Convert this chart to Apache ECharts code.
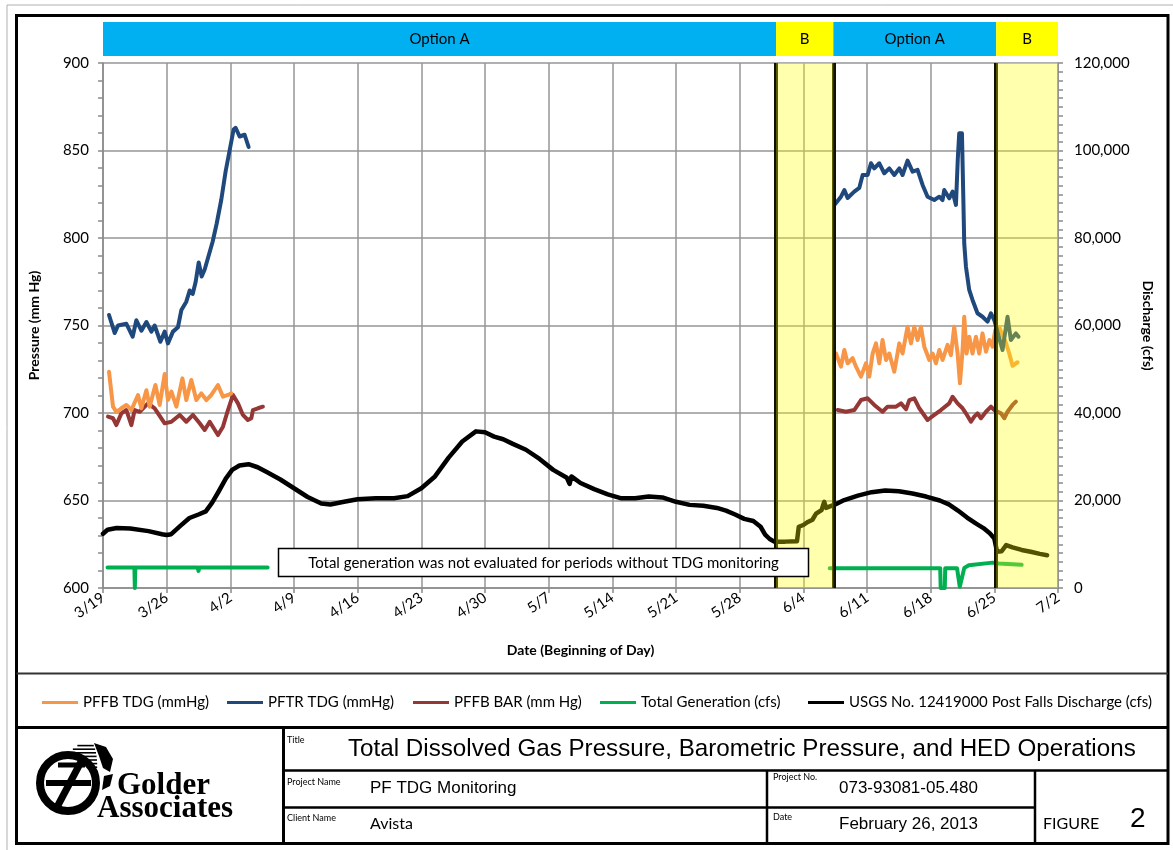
<!DOCTYPE html>
<html>
<head>
<meta charset="utf-8">
<script src="https://cdn.jsdelivr.net/npm/echarts@6/dist/echarts.min.js"></script>
<style>
  html, body { margin: 0; padding: 0; background: #ffffff; }
  #chart { width: 1173px; height: 850px; }
</style>
</head>
<body>
<div id="chart"></div>
<script>
// ---- Date axis: days counted from 3/19 ----
const xTickLabels = ['3/19','3/26','4/2','4/9','4/16','4/23','4/30','5/7','5/14','5/21','5/28','6/4','6/11','6/18','6/25','7/2'];

// ---- Operating phases (day offsets) ----
const phaseStart = [0, 74, 80.3, 98.2];
const phaseEnd   = [74, 80.3, 98.2, 105];
const phaseLabel = ['Option A', 'B', 'Option A', 'B'];

// ---- Series: [day offset, value]; null splits monitoring periods ----
const pffbTdg = [
  [0.66,723.6],[1.10,703.6],[1.47,700.7],[2.02,702.7],[2.57,704.6],[3.12,701.7],[3.85,710.3],[4.22,702.7],
  [4.77,713],[5.13,703.6],[5.76,716],[6.23,704.6],[6.78,722.3],[7.14,707.4],[7.52,712.2],[8.07,703.6],
  [8.73,719.8],[9.16,707.4],[9.71,718.9],[10.26,707.4],[10.81,711.2],[11.36,707.4],[11.91,710.3],[12.64,716],
  [13.19,709.3],[13.74,710.3],[14.11,711.2],
  [50,null],
  [80.59,734],[81.14,726.5],[81.51,736],[81.87,728.4],[82.42,731.3],[82.79,726.5],[83.34,720.8],[83.89,728.4],
  [84.25,720.8],[84.62,734],[84.99,739.8],[85.35,728.4],[85.71,741.7],[86.09,730.3],[86.45,734],[87.00,723.6],
  [87.55,739.8],[87.91,734],[88.46,749.3],[88.84,739.8],[89.20,749.3],[89.56,741.7],[89.93,749.3],[90.30,737.9],
  [90.85,730.3],[91.21,734],[91.58,728.4],[91.95,736],[92.31,730.3],[92.86,738.9],[93.23,733.1],[93.59,749.3],
  [93.96,734],[94.22,717],[94.51,736],[94.69,755],[94.95,734],[95.24,743.6],[95.60,734],[95.98,743.6],
  [96.34,734],[96.70,745.5],[97.08,735],[97.46,741.7],[97.80,737.9],[98.10,747.4],[98.54,749],[99.28,740],
  [99.64,734],[100.0,727],[100.55,729]
];

const pftrTdg = [
  [0.66,756],[1.29,745.7],[1.65,750],[2.57,751],[3.26,743.6],[3.67,753],[4.22,747],[4.77,752],
  [5.32,746.5],[5.68,750],[6.31,740.7],[6.78,746.5],[7.14,739.8],[7.69,746.5],[8.24,749],[8.62,758.9],
  [9.16,763.6],[9.53,770],[9.86,768],[10.19,775],[10.52,786],[10.85,778],[11.18,782],[11.62,790],
  [12.06,798],[12.49,808],[13.01,822],[13.48,838],[13.92,850],[14.36,862],[14.58,863],[15.02,858],
  [15.57,859],[16.01,852],
  [50,null],
  [80.41,818.9],[81.14,823.6],[81.51,827.4],[81.87,822.9],[82.60,826.5],[83.15,828.6],[83.52,836],[84.07,836],
  [84.44,842.7],[84.80,839.8],[85.35,842.7],[85.90,837],[86.45,839.8],[87.00,836],[87.55,839.8],[87.91,836],
  [88.46,844.2],[89.01,837.9],[89.56,838.9],[90.11,830.3],[90.66,823.6],[91.40,821.7],[91.95,823.6],[92.31,821.7],
  [92.49,827.4],[93.04,822.7],[93.41,826.5],[93.78,818.9],[93.98,845],[94.14,859.8],[94.44,859.8],[94.58,825.5],
  [94.69,797],[94.88,783.6],[95.24,770.3],[95.60,764.6],[96.15,757],[96.70,755],[97.25,752.2],[97.63,757],
  [97.99,753.1],[98.18,753],[98.90,736],[99.45,755],[99.82,741.7],[100.37,745.5],[100.66,743.6]
];

const pffbBar = [
  [0.55,697.9],[1.10,697],[1.47,693.1],[2.02,699.8],[2.57,701.7],[3.12,693.1],[3.48,701.7],[4.03,700.7],
  [4.95,705.5],[5.68,702.7],[6.78,694.1],[7.52,695],[8.43,698.9],[9.16,695],[9.89,698.9],[10.63,694.1],
  [11.18,690.3],[11.73,695],[12.64,687.4],[13.19,692.2],[13.74,701.7],[14.29,710.3],[14.84,705.5],[15.38,698.9],
  [15.93,696],[16.31,697],[16.48,701.7],[17.03,702.7],[17.58,703.6],
  [50,null],
  [80.77,701.7],[81.69,700.7],[82.60,701.7],[83.34,707.4],[84.07,708.4],[84.80,704.6],[85.71,700.7],[86.26,703.6],
  [87.19,703.6],[87.74,705.5],[88.29,702.1],[88.65,707.4],[89.20,708.4],[89.75,702.7],[90.66,696],[91.40,698.9],
  [92.13,701.7],[93.04,705.5],[93.41,709.3],[93.96,705.5],[94.51,702.7],[94.88,699.8],[95.43,695],[95.79,697.9],
  [96.15,699.8],[96.53,697],[97.08,700.7],[97.63,703.6],[97.99,701.7],[98.73,699.8],[99.09,697],[99.45,700.7],
  [100.0,704.6],[100.37,706.5]
];

const totalGeneration = [
  [0.5,4700],[3.45,4700],[3.5,0],[3.55,4700],[10.4,4700],[10.5,3900],[10.6,4700],[18.1,4700],
  [40,null],
  [79.9,4500],[92.05,4500],[92.1,0],[92.55,0],[92.6,4500],[93.9,4500],[94.2,300],[94.4,300],[94.7,4600],
  [95.2,5200],[97.8,5800],[98.5,5600],[101,5300]
];

const postFallsDischarge = [
  [0,12400],[0.5,13300],[1.5,13700],[3,13600],[5,13000],[6.5,12300],[7,12100],[7.5,12300],[8.5,14200],
  [9.5,16000],[10.5,16800],[11.3,17500],[12,19500],[12.7,22000],[13.5,25000],[14.2,27000],[15,28000],
  [16,28300],[17,27600],[18,26500],[19.5,24800],[21,22800],[22.5,20800],[24,19300],[25,19100],[26.5,19700],
  [28,20300],[30,20500],[32,20500],[33.5,21000],[35,22800],[36.5,25500],[38,29800],[39.5,33500],[41,35800],
  [42,35600],[43,34600],[44,34000],[45,33000],[46.5,31600],[48,29500],[49.5,27000],[51,25200],[51.3,23800],
  [51.5,25500],[52.5,24000],[54,22600],[55.5,21400],[57,20500],[58.5,20500],[60,20900],[61.5,20700],
  [63,19700],[64.5,19000],[66,18800],[67.5,18300],[68.5,17700],[69.5,16800],[70.5,15800],[71.5,15300],
  [72.3,14000],[72.8,12200],[73.3,11200],[73.8,10600],[75,10600],[76.3,10700],[76.5,14000],[77,14400],
  [77.5,15100],[78,15600],[78.4,17000],[79,17800],[79.3,19700],[79.5,18300],[80,18700],[80.5,19100],
  [81.5,20100],[83,21100],[84.5,21900],[86,22300],[87.5,22100],[89,21600],[90.5,20900],[92,20000],
  [93,19100],[94,17700],[95,16100],[96,14700],[96.8,13700],[97.5,12500],[98,11300],[98.3,8300],[98.8,8400],
  [99.3,9800],[100,9300],[101,8700],[102,8300],[103,7800],[103.8,7500]
];

const noteText = 'Total generation was not evaluated for periods without TDG monitoring';

const seriesNames = ['PFFB TDG (mmHg)', 'PFTR TDG (mmHg)', 'PFFB BAR (mm Hg)', 'Total Generation (cfs)', 'USGS No. 12419000 Post Falls Discharge (cfs)'];
const seriesColors = ['#F79646', '#1F497D', '#953735', '#00B050', '#000000'];

// ---- derived pieces ----
const shadeRanges = phaseStart.map((s, i) => [s, phaseEnd[i], phaseLabel[i]]).filter(r => r[2] === 'B');
const phaseBoundaries = phaseStart.slice(1);

const FONT = 'Lato, "Open Sans", sans-serif';
const GRID_GRAY = '#969696';
const AXIS_GRAY = '#8a8a8a';

const chart = echarts.init(document.getElementById('chart'), null, { renderer: 'canvas' });

function line(name, data, yAxisIndex, color, width, z) {
  return {
    type: 'line', name, data, yAxisIndex, xAxisIndex: 0,
    showSymbol: false, symbol: 'none', connectNulls: false, z,
    lineStyle: { color, width, join: 'round', cap: 'round' },
    itemStyle: { color }
  };
}

// legend placed item by item
const legendLefts = [37, 222, 408, 595, 803];
const legends = seriesNames.map((n, i) => ({
  data: [n], left: legendLefts[i], top: 690, icon: 'rect',
  itemWidth: 36, itemHeight: 3, selectedMode: false,
  textStyle: { fontFamily: FONT, fontSize: 15, color: '#000' }
}));

// decorative logo stripes on the globe
const globeStripes = [];
for (let yy = 742; yy <= 790; yy += 3.6) {
  const dy = yy - 766, r = 24;
  if (Math.abs(dy) < r) {
    const half = Math.sqrt(r * r - dy * dy);
    globeStripes.push({ type: 'line', shape: { x1: 90 - half, y1: yy, x2: 90 + half * 0.3, y2: yy },
      style: { stroke: '#000', lineWidth: 1.6 } });
  }
}

const T = (text, x, y, font, align, extra) => Object.assign({
  type: 'text', x, y, z: 50,
  style: { text, font, fill: '#000', align: align || 'left', verticalAlign: 'middle' }
}, extra || {});
const L = (x1, y1, x2, y2, w, c) => ({ type: 'line', z: 50, shape: { x1, y1, x2, y2 }, style: { stroke: c || '#000', lineWidth: w } });

const option = {
  animation: false,
  backgroundColor: '#ffffff',
  grid: [
    { left: 103, top: 63, width: 955, height: 525, containLabel: false },
    { left: 103, top: 22, width: 955, height: 34, containLabel: false }
  ],
  legend: legends,
  xAxis: [
    {
      type: 'value', gridIndex: 0, min: 0, max: 105, interval: 7,
      axisLine: { show: true, onZero: false, lineStyle: { color: AXIS_GRAY, width: 1.5 } },
      axisTick: { show: true, length: 5, lineStyle: { color: AXIS_GRAY, width: 1.5 } },
      splitLine: { show: true, lineStyle: { color: GRID_GRAY, width: 1.5 } },
      axisLabel: {
        rotate: 35, margin: 8, fontFamily: FONT, fontSize: 15, color: '#000',
        formatter: v => xTickLabels[Math.round(v / 7)] || ''
      },
      name: 'Date (Beginning of Day)', nameLocation: 'middle', nameGap: 55,
      nameTextStyle: { fontFamily: FONT, fontSize: 14, fontWeight: 'bold', color: '#000' }
    },
    { type: 'value', gridIndex: 1, min: 0, max: 105, show: false }
  ],
  yAxis: [
    {
      type: 'value', gridIndex: 0, position: 'left', min: 600, max: 900, interval: 50,
      axisLine: { show: true, lineStyle: { color: AXIS_GRAY, width: 1.5 } },
      axisTick: { show: true, length: 5, lineStyle: { color: AXIS_GRAY, width: 1.5 } },
      minorTick: { show: true, splitNumber: 5, length: 5, lineStyle: { color: AXIS_GRAY, width: 1.5 } },
      splitLine: { show: true, lineStyle: { color: GRID_GRAY, width: 1.5 } },
      axisLabel: { margin: 14, fontFamily: FONT, fontSize: 15, color: '#000' },
      name: 'Pressure (mm Hg)', nameLocation: 'middle', nameGap: 62,
      nameTextStyle: { fontFamily: FONT, fontSize: 14, fontWeight: 'bold', color: '#000' }
    },
    {
      type: 'value', gridIndex: 0, position: 'right', min: 0, max: 120000, interval: 20000,
      axisLine: { show: true, lineStyle: { color: AXIS_GRAY, width: 1.5 } },
      axisTick: { show: true, length: 5, lineStyle: { color: AXIS_GRAY, width: 1.5 } },
      minorTick: { show: true, splitNumber: 10, length: 5, lineStyle: { color: AXIS_GRAY, width: 1.5 } },
      splitLine: { show: false },
      axisLabel: {
        margin: 16, fontFamily: FONT, fontSize: 15, color: '#000',
        formatter: v => v.toLocaleString('en-US')
      },
      name: 'Discharge (cfs)', nameLocation: 'middle', nameGap: 82, nameRotate: -90,
      nameTextStyle: { fontFamily: FONT, fontSize: 14, fontWeight: 'bold', color: '#000' }
    },
    { type: 'value', gridIndex: 1, min: 0, max: 1, show: false }
  ],
  series: [
    line(seriesNames[4], postFallsDischarge, 1, seriesColors[4], 4.5, 2),
    line(seriesNames[3], totalGeneration, 1, seriesColors[3], 4, 3),
    line(seriesNames[2], pffbBar, 0, seriesColors[2], 4, 4),
    line(seriesNames[0], pffbTdg, 0, seriesColors[0], 4, 5),
    line(seriesNames[1], pftrTdg, 0, seriesColors[1], 4, 6),
    {
      // phase boundaries
      type: 'line', name: 'phase-boundary', data: [], xAxisIndex: 0, yAxisIndex: 0, z: 7, silent: true,
      markLine: {
        z: 7, silent: true, symbol: ['none', 'none'], label: { show: false },
        lineStyle: { color: '#111100', width: 4, type: 'solid' },
        data: phaseBoundaries.map(b => ({ xAxis: b }))
      }
    },
    {
      // translucent shading of the "B" periods, drawn over the traces
      type: 'line', name: 'phase-shade', data: [], xAxisIndex: 0, yAxisIndex: 0, z: 9, silent: true,
      markArea: {
        z: 9, silent: true, itemStyle: { color: 'rgba(255,255,0,0.32)' },
        data: shadeRanges.map(r => [{ xAxis: r[0] }, { xAxis: r[1] }])
      }
    },
    {
      // phase band above the plot
      type: 'custom', name: 'phase-band', xAxisIndex: 1, yAxisIndex: 2, silent: true,
      data: phaseStart.map((s, i) => [s, phaseEnd[i], i]),
      renderItem: (params, api) => {
        const i = api.value(2);
        const p0 = api.coord([api.value(0), 1]);
        const p1 = api.coord([api.value(1), 0]);
        return {
          type: 'group',
          children: [
            { type: 'rect', shape: { x: p0[0], y: p0[1], width: p1[0] - p0[0], height: p1[1] - p0[1] },
              style: { fill: phaseLabel[i] === 'B' ? '#FFFF00' : '#00B0F0' } },
            { type: 'text', style: { text: phaseLabel[i], x: (p0[0] + p1[0]) / 2, y: (p0[1] + p1[1]) / 2,
              align: 'center', verticalAlign: 'middle', font: '15px ' + FONT, fill: '#000' } }
          ]
        };
      }
    }
  ],
  graphic: {
    elements: [
      // page frame
      L(7, 5, 1173, 5, 1, '#b0b0b0'),
      L(7, 5, 7, 850, 1, '#b0b0b0'),
      { type: 'rect', z: 50, shape: { x: 16.5, y: 15.5, width: 1151.5, height: 828 },
        style: { fill: 'none', stroke: '#000', lineWidth: 3 } },
      // legend box and title block rules
      L(16.5, 673.5, 1168, 673.5, 2, '#333'),
      L(16.5, 727.5, 1168, 727.5, 3),
      L(283.5, 727.5, 283.5, 843.5, 3),
      L(283.5, 770.5, 1168, 770.5, 2.5),
      L(283.5, 807.5, 1035, 807.5, 2.5),
      L(767, 770.5, 767, 843.5, 2.5),
      L(1035, 770.5, 1035, 843.5, 2.5),
      // note box
      { type: 'group', z: 100, children: [
        { type: 'rect', z: 100, shape: { x: 278.5, y: 548.5, width: 530, height: 28 },
          style: { fill: '#fff', stroke: '#000', lineWidth: 1.5 } },
        { type: 'text', z: 101, x: 543.5, y: 563,
          style: { text: noteText, font: '15px ' + FONT, fill: '#000', align: 'center', verticalAlign: 'middle' } }
      ] },
      // title block text
      T('Title', 287, 740, '9px ' + FONT),
      T('Total Dissolved Gas Pressure, Barometric Pressure, and HED Operations', 348, 749, '24.2px "Liberation Sans", Arial, sans-serif'),
      T('Project Name', 287, 782, '9px ' + FONT),
      T('PF TDG Monitoring', 370, 788, '17px "Liberation Sans", Arial, sans-serif'),
      T('Client Name', 287, 818, '9px ' + FONT),
      T('Avista', 370, 824, '16px ' + FONT),
      T('Project No.', 773, 777, '9px ' + FONT),
      T('073-93081-05.480', 839, 788, '17px "Liberation Sans", Arial, sans-serif'),
      T('Date', 773, 817, '9px ' + FONT),
      T('February 26, 2013', 839, 824, '17px "Liberation Sans", Arial, sans-serif'),
      T('FIGURE', 1043, 824, '16px ' + FONT),
      T('2', 1130, 819, '28px "Liberation Sans", Arial, sans-serif'),
      // company mark
      { type: 'group', z: 50, children: globeStripes.concat([
        { type: 'polygon', z: 50, shape: { points: [[94,743],[106,747],[113,759],[110,772],[103,768],[99,756]] }, style: { fill: '#000' } },
        { type: 'polygon', z: 50, shape: { points: [[104,776],[113,774],[110,786],[102,790]] }, style: { fill: '#000' } },
        { type: 'circle', z: 51, shape: { cx: 68, cy: 783, r: 28 }, style: { fill: '#fff', stroke: '#000', lineWidth: 8 } },
        { type: 'line', z: 52, shape: { x1: 46, y1: 783, x2: 91, y2: 783 }, style: { stroke: '#000', lineWidth: 6 } },
        { type: 'line', z: 52, shape: { x1: 83, y1: 758, x2: 56, y2: 809 }, style: { stroke: '#000', lineWidth: 7 } },
        { type: 'line', z: 52, shape: { x1: 58, y1: 765, x2: 85, y2: 765 }, style: { stroke: '#000', lineWidth: 5 } }
      ]) },
      T('Golder', 117, 786, 'bold 31px "Liberation Serif", "DejaVu Serif", serif'),
      T('Associates', 97, 809, 'bold 31px "Liberation Serif", "DejaVu Serif", serif')
    ]
  }
};

chart.setOption(option);
</script>
</body>
</html>
